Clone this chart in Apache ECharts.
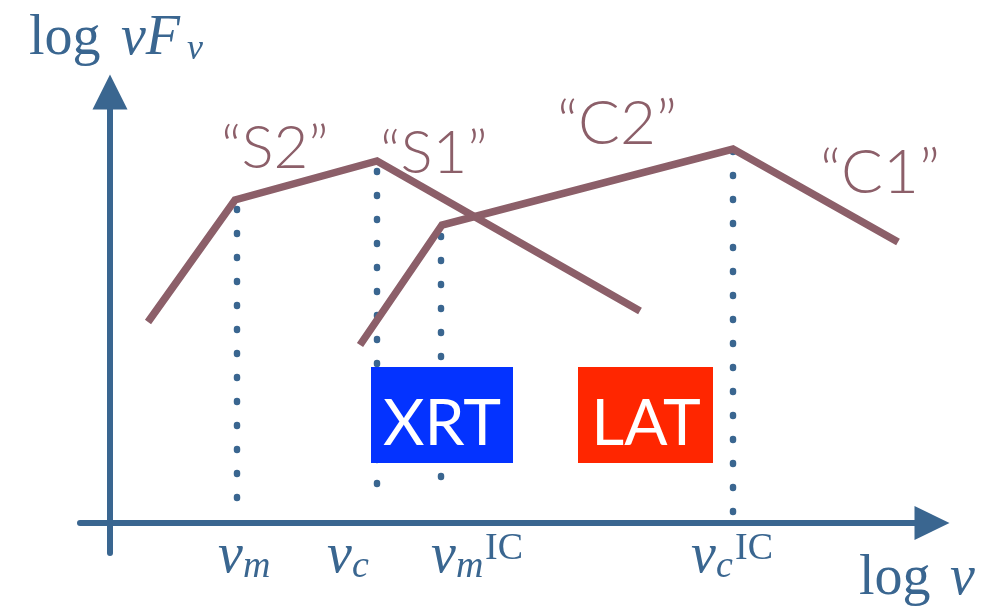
<!DOCTYPE html>
<html>
<head>
<meta charset="utf-8">
<script src="https://cdn.jsdelivr.net/npm/echarts@6/dist/echarts.min.js"></script>
<style>
html,body{margin:0;padding:0;background:#fff;}
#chart{width:1008px;height:607px;}
</style>
</head>
<body>
<div id="chart"></div>
<script>
// Schematic units: x = log ν (arbitrary), y = log νFν (arbitrary)
const syncLogNu   = [38, 125, 267, 530];
const syncLogNuFnu = [201, 323, 362, 212];
const icLogNu     = [250, 332, 623, 788];
const icLogNuFnu  = [178, 298, 374, 281];
// break frequencies (ν_m, ν_c, ν_m^IC, ν_c^IC) and dotted guide extents
const breakNames  = ['nu_m', 'nu_c', 'nu_m^IC', 'nu_c^IC'];
const breakLogNu  = [127, 267, 331, 623];
const guideTop    = [314, 352, 287, 372];
const guideBottom = [25, 16, 23, 11];
const curveLabels = ['\u201CS2\u201D', '\u201CS1\u201D', '\u201CC2\u201D', '\u201CC1\u201D'];
const instruments = ['XRT', 'LAT'];

const AXIS = '#3a6690';
const CURVE = '#8c5f69';
const SERIF = '"Liberation Serif", "DejaVu Serif", serif';
const SANS = 'Lato, "Open Sans", sans-serif';

const chart = echarts.init(document.getElementById('chart'), null, {renderer: 'canvas'});

function pairs(xs, ys) { return xs.map((x, i) => [x, ys[i]]); }

const series = [];
breakLogNu.forEach((x, i) => {
  series.push({
    type: 'line', name: breakNames[i], silent: true, symbol: 'none', z: 1,
    data: [[x, guideTop[i]], [x, guideBottom[i]]],
    lineStyle: {color: AXIS, width: 6.5, type: [1, 23], cap: 'round'}
  });
});
series.push({
  type: 'line', name: 'synchrotron', symbol: 'none', z: 3, silent: true,
  data: pairs(syncLogNu, syncLogNuFnu),
  lineStyle: {color: CURVE, width: 7.5, join: 'miter', cap: 'butt'}
});
series.push({
  type: 'line', name: 'inverse Compton', symbol: 'none', z: 3, silent: true,
  data: pairs(icLogNu, icLogNuFnu),
  lineStyle: {color: CURVE, width: 7.5, join: 'miter', cap: 'butt'}
});

function txt(x, baseline, text, size, opts) {
  opts = opts || {};
  return {
    type: 'text', z: 200, silent: true,
    x: x, y: baseline,
    style: {
      text: text,
      fill: opts.fill || AXIS,
      font: (opts.italic ? 'italic ' : '') + (opts.weight || 'normal') + ' ' + size + 'px ' + (opts.family || SERIF),
      align: opts.align || 'left', textAlign: opts.align || 'left',
      verticalAlign: 'bottom', textVerticalAlign: 'bottom'
    }
  };
}
function serifText(x, baseline, text, size, italic) {
  return txt(x, baseline + Math.round(size * 0.22), text, size, {italic: italic});
}
function sansText(x, baseline, text, size, fill, align, weight) {
  return txt(x, baseline + Math.round(size * 0.2), text, size, {family: SANS, fill: fill, align: align, weight: weight});
}

const graphic = [
  // y-axis title: log νFν
  serifText(29, 55, 'log', 56, false),
  serifText(121, 55, 'νF', 56, true),
  serifText(187, 60, 'ν', 36, true),
  // x-axis title: log ν
  serifText(859, 595, 'log', 56, false),
  serifText(950, 595, 'ν', 56, true),
  // break-frequency labels
  serifText(218, 573, 'ν', 56, true), serifText(243, 578, 'm', 38, true),
  serifText(327, 573, 'ν', 56, true), serifText(352, 578, 'c', 38, true),
  serifText(431, 573, 'ν', 56, true), serifText(456, 578, 'm', 38, true), serifText(485, 560, 'IC', 38, false),
  serifText(691, 573, 'ν', 56, true), serifText(716, 578, 'c', 38, true), serifText(735, 560, 'IC', 38, false),
  // curve labels
  sansText(221, 167, curveLabels[0], 60, CURVE, 'left', 300),
  sansText(380, 172, curveLabels[1], 60, CURVE, 'left', 300),
  sansText(557, 143, curveLabels[2], 62, CURVE, 'left', 300),
  sansText(820, 192, curveLabels[3], 62, CURVE, 'left', 300),
  // instrument boxes
  {type: 'rect', z: 150, silent: true, shape: {x: 371, y: 367, width: 142, height: 96}, style: {fill: '#0433ff'}},
  sansText(442, 443, instruments[0], 64, '#ffffff', 'center', 'normal'),
  {type: 'rect', z: 150, silent: true, shape: {x: 578, y: 367, width: 135, height: 96}, style: {fill: '#ff2600'}},
  sansText(646, 443, instruments[1], 64, '#ffffff', 'center', 'normal')
];

chart.setOption({
  animation: false,
  backgroundColor: '#ffffff',
  grid: {left: 80, right: 76, top: 92, bottom: 54, containLabel: false},
  xAxis: {
    type: 'value', min: -30, max: 822,
    axisLine: {show: true, onZero: true, symbol: ['none', 'triangle'], symbolSize: [34, 35],
      lineStyle: {color: AXIS, width: 6}},
    axisTick: {show: false}, axisLabel: {show: false}, splitLine: {show: false}
  },
  yAxis: {
    type: 'value', min: -30, max: 431,
    axisLine: {show: true, onZero: true, symbol: ['none', 'triangle'], symbolSize: [35, 35],
      lineStyle: {color: AXIS, width: 6}},
    axisTick: {show: false}, axisLabel: {show: false}, splitLine: {show: false}
  },
  series: series,
  graphic: graphic
});
</script>
</body>
</html>
